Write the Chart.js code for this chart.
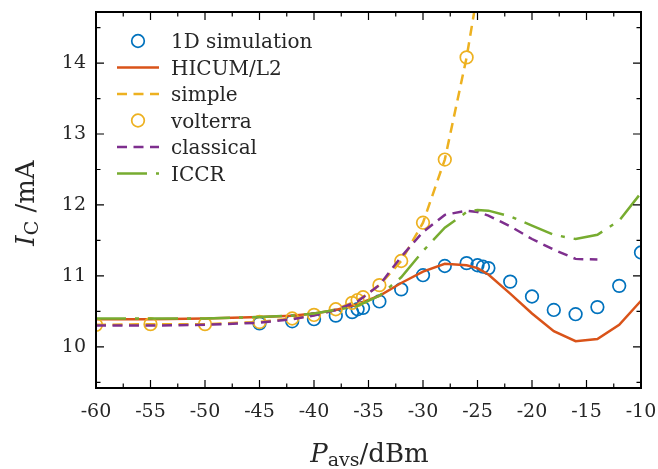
<!DOCTYPE html>
<html>
<head>
<meta charset="utf-8">
<script src="https://cdn.jsdelivr.net/npm/chart.js@4.4.1/dist/chart.umd.min.js"></script>
<style>
  html, body { margin: 0; padding: 0; background: #fff; }
  #wrap { width: 658px; height: 469px; }
</style>
</head>
<body>
<div id="wrap"><canvas id="chart" width="658" height="469"></canvas></div>
<script>
// Values (Pavs in dBm, Ic in mA)
const simX = [-45, -42, -40, -38, -36.5, -36, -35.5, -34, -32, -30, -28, -26, -25, -24.5, -24, -22, -20, -18, -16, -14, -12, -10];
const simY = [10.33, 10.36, 10.39, 10.44, 10.49, 10.53, 10.55, 10.64, 10.81, 11.01, 11.14, 11.18, 11.15, 11.13, 11.11, 10.92, 10.71, 10.52, 10.46, 10.56, 10.86, 11.33];

const hicumX = [-60, -55, -50, -45, -42, -40, -38, -36, -34, -32, -30, -28, -26, -25, -24, -22, -20, -18, -16, -14, -12, -10];
const hicumY = [10.39, 10.39, 10.40, 10.42, 10.44, 10.47, 10.52, 10.60, 10.72, 10.90, 11.06, 11.17, 11.15, 11.11, 11.02, 10.75, 10.47, 10.22, 10.08, 10.11, 10.31, 10.65];

const simpleX = [-60, -55, -50, -45, -42, -40, -38, -36.5, -36, -35.5, -34, -32, -30, -28, -26, -25, -24];
const simpleY = [10.31, 10.32, 10.32, 10.35, 10.40, 10.45, 10.53, 10.62, 10.66, 10.70, 10.87, 11.21, 11.75, 12.64, 14.08, 15.0, 16.1];

const volterraX = [-60, -55, -50, -45, -42, -40, -38, -36.5, -36, -35.5, -34, -32, -30, -28, -26];
const volterraY = [10.31, 10.32, 10.32, 10.35, 10.40, 10.45, 10.53, 10.62, 10.66, 10.70, 10.87, 11.21, 11.75, 12.64, 14.08];

const classicalX = [-60, -55, -50, -45, -42, -40, -38, -36, -34, -32, -30, -28, -26, -25, -24, -22, -20, -18, -16, -14];
const classicalY = [10.30, 10.30, 10.31, 10.34, 10.39, 10.44, 10.52, 10.64, 10.87, 11.27, 11.62, 11.86, 11.92, 11.90, 11.85, 11.70, 11.52, 11.37, 11.24, 11.23];

const iccrX = [-60, -55, -50, -45, -42, -40, -38, -36, -34, -32, -30, -28, -26, -25, -24, -22, -20, -18, -16, -14, -12, -10];
const iccrY = [10.40, 10.40, 10.40, 10.42, 10.44, 10.47, 10.52, 10.58, 10.72, 10.98, 11.35, 11.68, 11.90, 11.93, 11.92, 11.84, 11.71, 11.58, 11.52, 11.58, 11.78, 12.17];

const xTicks = [-60, -55, -50, -45, -40, -35, -30, -25, -20, -15, -10];
const yTicks = [10, 11, 12, 13, 14];

const FONT = '"DejaVu Serif", serif';
const TEXT = '#262626';

function pts(xs, ys) {
    return xs.map((x, i) => ({ x: x, y: ys[i] }));
}

function lineSet(label, xs, ys, color, dash, order) {
    return {
        label: label,
        data: pts(xs, ys),
        borderColor: color,
        backgroundColor: color,
        borderWidth: 2.5,
        borderDash: dash,
        pointRadius: 0,
        tension: 0,
        order: order
    };
}

function markerSet(label, xs, ys, color, order) {
    return {
        label: label,
        data: pts(xs, ys),
        showLine: false,
        borderColor: color,
        backgroundColor: 'rgba(0,0,0,0)',
        pointBorderColor: color,
        pointBackgroundColor: 'rgba(0,0,0,0)',
        pointBorderWidth: 1.7,
        pointRadius: 6.3,
        pointStyle: 'circle',
        order: order
    };
}

// inward ticks on all four sides plus the box
const framePlugin = {
    id: 'frame',
    afterDatasetsDraw(chart) {
        const { ctx, chartArea: a, scales: { x, y } } = chart;
        ctx.save();
        ctx.strokeStyle = '#000';
        ctx.lineWidth = 1.2;
        ctx.beginPath();
        const xStep = (xTicks[1] - xTicks[0]) / 2;
        for (let v = xTicks[0]; v <= xTicks[xTicks.length - 1] + 1e-9; v += xStep) {
            const px = x.getPixelForValue(v);
            const len = xTicks.includes(v) ? 8 : 4.5;
            ctx.moveTo(px, a.bottom); ctx.lineTo(px, a.bottom - len);
            ctx.moveTo(px, a.top); ctx.lineTo(px, a.top + len);
        }
        const yStep = (yTicks[1] - yTicks[0]) / 2;
        for (let v = yTicks[0] - yStep; v <= yTicks[yTicks.length - 1] + yStep + 1e-9; v += yStep) {
            const py = y.getPixelForValue(v);
            const len = yTicks.includes(v) ? 8 : 4.5;
            ctx.moveTo(a.left, py); ctx.lineTo(a.left + len, py);
            ctx.moveTo(a.right, py); ctx.lineTo(a.right - len, py);
        }
        ctx.stroke();
        ctx.lineWidth = 2;
        ctx.strokeRect(a.left, a.top, a.right - a.left, a.bottom - a.top);
        ctx.restore();
    }
};

// legend drawn inside the plot, top left
const legendPlugin = {
    id: 'boxLegend',
    afterDraw(chart) {
        const { ctx, chartArea: a } = chart;
        const sets = chart.data.datasets;
        ctx.save();
        sets.forEach((ds, i) => {
            const yy = a.top + 29 + i * 26.5;
            const x0 = a.left + 21, x1 = a.left + 63;
            if (ds.showLine === false) {
                ctx.beginPath();
                ctx.arc((x0 + x1) / 2, yy, ds.pointRadius, 0, Math.PI * 2);
                ctx.strokeStyle = ds.pointBorderColor;
                ctx.lineWidth = ds.pointBorderWidth;
                ctx.stroke();
            } else {
                ctx.beginPath();
                ctx.setLineDash(ds.borderDash || []);
                ctx.moveTo(x0, yy); ctx.lineTo(x1, yy);
                ctx.strokeStyle = ds.borderColor;
                ctx.lineWidth = ds.borderWidth;
                ctx.stroke();
                ctx.setLineDash([]);
            }
            ctx.fillStyle = TEXT;
            ctx.font = '20px ' + FONT;
            ctx.textBaseline = 'alphabetic';
            ctx.textAlign = 'left';
            ctx.fillText(ds.label, a.left + 75, yy + 7);
        });
        ctx.restore();
    }
};

// axis titles with subscripts
function drawParts(ctx, parts, x, y) {
    let cx = x;
    parts.forEach(p => {
        ctx.font = p.font;
        ctx.fillText(p.text, cx, y + (p.dy || 0));
        cx += ctx.measureText(p.text).width;
    });
}

function partsWidth(ctx, parts) {
    let w = 0;
    parts.forEach(p => { ctx.font = p.font; w += ctx.measureText(p.text).width; });
    return w;
}

const titlePlugin = {
    id: 'titles',
    afterDraw(chart) {
        const { ctx, chartArea: a } = chart;
        ctx.save();
        ctx.fillStyle = TEXT;
        ctx.textBaseline = 'alphabetic';
        ctx.textAlign = 'left';

        const xParts = [
            { text: 'P', font: 'italic 26px ' + FONT },
            { text: 'avs', font: '19px ' + FONT, dy: 4 },
            { text: '/dBm', font: '26px ' + FONT }
        ];
        const xw = partsWidth(ctx, xParts);
        drawParts(ctx, xParts, (a.left + a.right) / 2 + 1 - xw / 2, 462);

        const yParts = [
            { text: 'I', font: 'italic 26px ' + FONT },
            { text: 'C', font: '19px ' + FONT, dy: 4 },
            { text: ' /mA', font: '26px ' + FONT }
        ];
        const yw = partsWidth(ctx, yParts);
        ctx.translate(34, (a.top + a.bottom) / 2 + 3);
        ctx.rotate(-Math.PI / 2);
        drawParts(ctx, yParts, -yw / 2, 0);
        ctx.restore();
    }
};

const ctx = document.getElementById('chart');
new Chart(ctx, {
    type: 'line',
    data: {
        datasets: [
            markerSet('1D simulation', simX, simY, '#0072BD', 6),
            lineSet('HICUM/L2', hicumX, hicumY, '#D95319', [], 5),
            lineSet('simple', simpleX, simpleY, '#EDB120', [10, 6.5], 4),
            markerSet('volterra', volterraX, volterraY, '#EDB120', 3),
            lineSet('classical', classicalX, classicalY, '#7E2F8E', [10, 6.5], 2),
            lineSet('ICCR', iccrX, iccrY, '#77AC30', [30, 9, 4, 9], 1)
        ]
    },
    options: {
        responsive: false,
        devicePixelRatio: 1,
        animation: false,
        layout: { padding: { left: 0, right: 17, top: 12, bottom: 0 } },
        plugins: {
            legend: { display: false },
            tooltip: { enabled: false }
        },
        scales: {
            x: {
                type: 'linear',
                min: -60,
                max: -10,
                afterBuildTicks: s => { s.ticks = xTicks.map(v => ({ value: v })); },
                afterFit: s => {
                    s.height = 81;
                    s.paddingLeft = 0; s.paddingRight = 0;
                },
                grid: { display: false, drawTicks: false },
                border: { display: false },
                ticks: {
                    font: { family: FONT, size: 19 },
                    color: TEXT,
                    padding: 13,
                    maxRotation: 0,
                    callback: v => String(v)
                }
            },
            y: {
                type: 'linear',
                min: 9.42,
                max: 14.72,
                afterBuildTicks: s => { s.ticks = yTicks.map(v => ({ value: v })); },
                afterFit: s => {
                    s.width = 96;
                    s.paddingTop = 0; s.paddingBottom = 0;
                },
                grid: { display: false, drawTicks: false },
                border: { display: false },
                ticks: {
                    font: { family: FONT, size: 19 },
                    color: TEXT,
                    padding: 10,
                    callback: v => String(v)
                }
            }
        }
    },
    plugins: [framePlugin, legendPlugin, titlePlugin]
});
</script>
</body>
</html>
